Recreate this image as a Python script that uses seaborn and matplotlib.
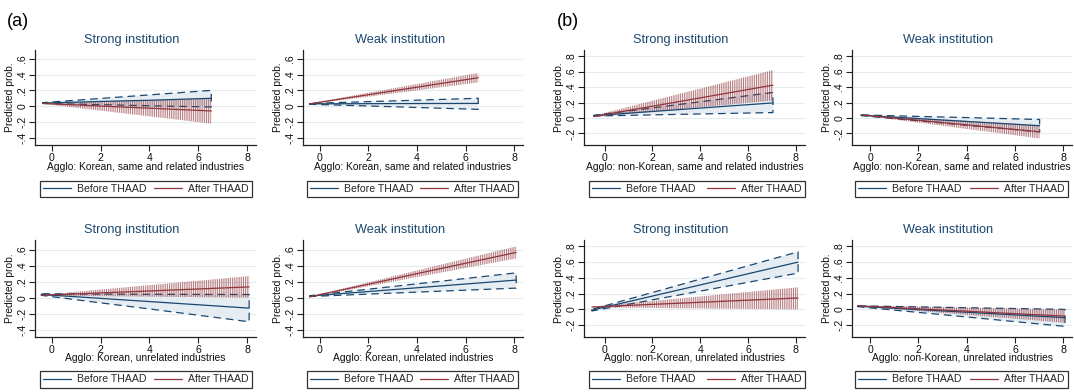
import matplotlib
matplotlib.use("Agg")
import matplotlib.pyplot as plt
import matplotlib.colors as mcolors
from matplotlib.lines import Line2D
from matplotlib.ticker import FixedLocator, FuncFormatter
import seaborn as sns

sns.set_theme(style="white")
plt.rcParams["font.family"] = ["Liberation Sans", "DejaVu Sans"]
plt.rcParams["hatch.linewidth"] = 0.65
plt.rcParams["lines.scale_dashes"] = False

NAVY = "#1a476f"
MAROON = "#90353b"
CI_FILL = "#e6edf2"
GRID = "#e3ecee"
AXC = "#222222"

XL_KR_REL = "Agglo: Korean, same and related industries"
XL_NK_REL = "Agglo: non-Korean, same and related industries"
XL_KR_UNR = "Agglo: Korean, unrelated industries"
XL_NK_UNR = "Agglo: non-Korean, unrelated industries"
LEGEND_LABELS = ["Before THAAD", "After THAAD"]

# ---- (a) top-left: Korean, same & related, strong institution
x_p1 = [-0.37, 2, 4, 6.53]
bef_p1 = [0.040, 0.060, 0.075, 0.100]
bef_lo_p1 = [0.035, 0.020, 0.005, -0.010]
bef_hi_p1 = [0.045, 0.098, 0.143, 0.200]
aft_p1 = [0.035, 0.002, -0.025, -0.060]
aft_lo_p1 = [0.030, -0.056, -0.128, -0.220]
aft_hi_p1 = [0.040, 0.060, 0.078, 0.100]

# ---- (a) top-right: Korean, same & related, weak institution
x_p2 = [-0.41, 2, 4, 6.52]
bef_p2 = [0.030, 0.032, 0.034, 0.035]
bef_lo_p2 = [0.025, 0.003, -0.016, -0.040]
bef_hi_p2 = [0.035, 0.058, 0.076, 0.100]
aft_p2 = [0.030, 0.145, 0.240, 0.360]
aft_lo_p2 = [0.025, 0.120, 0.200, 0.300]
aft_hi_p2 = [0.035, 0.170, 0.280, 0.420]

# ---- (b) top-left: non-Korean, same & related, strong institution
x_p3 = [-0.45, 2, 4, 7.04]
bef_p3 = [0.030, 0.084, 0.128, 0.195]
bef_lo_p3 = [0.025, 0.040, 0.052, 0.070]
bef_hi_p3 = [0.035, 0.130, 0.210, 0.330]
aft_p3 = [0.020, 0.152, 0.260, 0.425]
aft_lo_p3 = [0.010, 0.080, 0.138, 0.225]
aft_hi_p3 = [0.030, 0.223, 0.380, 0.620]

# ---- (b) top-right: non-Korean, same & related, weak institution
x_p4 = [-0.37, 2, 4, 7.02]
bef_p4 = [0.035, -0.008, -0.045, -0.100]
bef_lo_p4 = [0.030, -0.037, -0.094, -0.180]
bef_hi_p4 = [0.040, 0.020, 0.005, -0.020]
aft_p4 = [0.040, -0.030, -0.090, -0.180]
aft_lo_p4 = [0.035, -0.061, -0.142, -0.265]
aft_hi_p4 = [0.045, 0.000, -0.038, -0.095]

# ---- (a) bottom-left: Korean, unrelated, strong institution
x_p5 = [-0.42, 2, 4, 6, 8.08]
bef_p5 = [0.040, -0.008, -0.048, -0.088, -0.130]
bef_lo_p5 = [0.030, -0.064, -0.140, -0.218, -0.300]
bef_hi_p5 = [0.050, 0.045, 0.043, 0.041, 0.040]
aft_p5 = [0.030, 0.060, 0.084, 0.109, 0.135]
aft_lo_p5 = [0.025, 0.019, 0.013, 0.007, 0.000]
aft_hi_p5 = [0.035, 0.102, 0.157, 0.212, 0.270]

# ---- (a) bottom-right: Korean, unrelated, weak institution
x_p6 = [-0.41, 2, 4, 6, 8.08]
bef_p6 = [0.020, 0.077, 0.124, 0.171, 0.220]
bef_lo_p6 = [0.015, 0.045, 0.070, 0.094, 0.120]
bef_hi_p6 = [0.025, 0.106, 0.173, 0.240, 0.310]
aft_p6 = [0.010, 0.168, 0.300, 0.430, 0.565]
aft_lo_p6 = [0.005, 0.143, 0.257, 0.371, 0.490]
aft_hi_p6 = [0.015, 0.192, 0.340, 0.487, 0.640]

# ---- (b) bottom-left: non-Korean, unrelated, strong institution
x_p7 = [-0.53, 2, 4, 6, 8.09]
bef_p7 = [-0.010, 0.169, 0.310, 0.452, 0.600]
bef_lo_p7 = [-0.020, 0.121, 0.232, 0.344, 0.460]
bef_hi_p7 = [0.000, 0.214, 0.384, 0.553, 0.730]
aft_p7 = [0.030, 0.064, 0.090, 0.117, 0.145]
aft_lo_p7 = [0.025, 0.018, 0.012, 0.006, 0.000]
aft_hi_p7 = [0.035, 0.107, 0.164, 0.221, 0.280]

# ---- (b) bottom-right: non-Korean, unrelated, weak institution
x_p8 = [-0.52, 2, 4, 6, 8.07]
bef_p8 = [0.040, -0.003, -0.036, -0.070, -0.105]
bef_lo_p8 = [0.035, -0.038, -0.096, -0.155, -0.215]
bef_hi_p8 = [0.045, 0.032, 0.021, 0.011, 0.000]
aft_p8 = [0.045, 0.007, -0.023, -0.054, -0.085]
aft_lo_p8 = [0.040, -0.021, -0.070, -0.119, -0.170]
aft_hi_p8 = [0.050, 0.035, 0.023, 0.012, 0.000]

YT_KR = [-0.4, -0.2, 0, 0.2, 0.4, 0.6]
YT_NK = [-0.2, 0, 0.2, 0.4, 0.6, 0.8]
XT = [0, 2, 4, 6, 8]

panels = [
    (0, 0, "Strong institution", XL_KR_REL, YT_KR, x_p1, bef_p1, bef_lo_p1, bef_hi_p1, aft_p1, aft_lo_p1, aft_hi_p1),
    (0, 1, "Weak institution", XL_KR_REL, YT_KR, x_p2, bef_p2, bef_lo_p2, bef_hi_p2, aft_p2, aft_lo_p2, aft_hi_p2),
    (0, 2, "Strong institution", XL_NK_REL, YT_NK, x_p3, bef_p3, bef_lo_p3, bef_hi_p3, aft_p3, aft_lo_p3, aft_hi_p3),
    (0, 3, "Weak institution", XL_NK_REL, YT_NK, x_p4, bef_p4, bef_lo_p4, bef_hi_p4, aft_p4, aft_lo_p4, aft_hi_p4),
    (1, 0, "Strong institution", XL_KR_UNR, YT_KR, x_p5, bef_p5, bef_lo_p5, bef_hi_p5, aft_p5, aft_lo_p5, aft_hi_p5),
    (1, 1, "Weak institution", XL_KR_UNR, YT_KR, x_p6, bef_p6, bef_lo_p6, bef_hi_p6, aft_p6, aft_lo_p6, aft_hi_p6),
    (1, 2, "Strong institution", XL_NK_UNR, YT_NK, x_p7, bef_p7, bef_lo_p7, bef_hi_p7, aft_p7, aft_lo_p7, aft_hi_p7),
    (1, 3, "Weak institution", XL_NK_UNR, YT_NK, x_p8, bef_p8, bef_lo_p8, bef_hi_p8, aft_p8, aft_lo_p8, aft_hi_p8),
]

W, H = 1074, 392
fig = plt.figure(figsize=(W / 100, H / 100), dpi=100)
fig.patch.set_facecolor("white")

COL_L = [35, 303, 584, 852]
COL_R = [256, 523, 805, 1072]
ROW_T = [50, 240]
ROW_B = [145, 337]
TITLE_X = [132, 400, 681, 948]
TITLE_Y = [40, 230]
LEG_X0 = [40, 307, 589, 855]
LEG_X1 = [252, 518, 805, 1068]
LEG_Y = [(180, 198), (370, 389)]
XLIMS = [(-0.68, 8.36), (-0.68, 8.36), (-0.86, 8.38), (-0.75, 8.36)]
YLIMS_KR = [(-0.49, 0.71), (-0.49, 0.72)]
YLIM_NK = (-0.35, 0.88)


def fmt(v, pos=None):
    if abs(v) < 1e-9:
        return "0"
    s = "%.1f" % v
    return s.replace("0.", ".")


red_hatch = mcolors.to_rgba(MAROON, 0.7)

for (r, c, title, xlabel, yt, x, b, blo, bhi, a, alo, ahi) in panels:
    l, rr, t, bt = COL_L[c], COL_R[c], ROW_T[r], ROW_B[r]
    ax = fig.add_axes([l / W, 1 - bt / H, (rr - l) / W, (bt - t) / H])
    ax.set_facecolor("white")
    # CI for Before THAAD: shaded area with dashed outline
    ax.fill_between(x, blo, bhi, facecolor=CI_FILL, edgecolor=NAVY,
                    linewidth=0.9, linestyle=(0, (5.5, 3.5)), zorder=1)
    # CI for After THAAD: dense vertical spikes
    ax.fill_between(x, alo, ahi, facecolor="none", edgecolor=red_hatch,
                    hatch="|" * 9, linewidth=0, zorder=2)
    sns.lineplot(x=x, y=b, ax=ax, color=NAVY, linewidth=0.9, zorder=3)
    sns.lineplot(x=x, y=a, ax=ax, color=MAROON, linewidth=0.9, zorder=4)

    ax.set_xlim(*XLIMS[c])
    ax.set_ylim(*(YLIMS_KR[r] if c < 2 else YLIM_NK))
    ax.xaxis.set_major_locator(FixedLocator(XT))
    ax.yaxis.set_major_locator(FixedLocator(yt))
    ax.yaxis.set_major_formatter(FuncFormatter(fmt))
    ax.xaxis.set_major_formatter(FuncFormatter(lambda v, p: "%d" % v))
    ax.yaxis.grid(True, color=GRID, linewidth=0.8)
    ax.xaxis.grid(False)
    ax.set_axisbelow(True)
    for s in ["top", "right"]:
        ax.spines[s].set_visible(False)
    for s in ["left", "bottom"]:
        ax.spines[s].set_color(AXC)
        ax.spines[s].set_linewidth(0.9)
    ax.tick_params(axis="both", which="major", direction="out", length=4,
                   width=0.8, color=AXC, labelsize=7.6, pad=1.5,
                   left=True, bottom=True, labelcolor="#111111")
    ax.tick_params(axis="y", labelrotation=90)
    for lab in ax.get_yticklabels():
        lab.set_va("center")
    ax.set_xlabel(xlabel, fontsize=7.4, color="#111111")
    ax.set_ylabel("Predicted prob.", fontsize=7.4, color="#111111")
    ax.xaxis.set_label_coords(0.5, -(17 if r == 0 else 16) / (bt - t))
    ax.yaxis.set_label_coords(-20 / (rr - l), 0.5)

    fig.text(TITLE_X[c] / W, 1 - TITLE_Y[r] / H, title, ha="center", va="center",
             fontsize=9.2, color=NAVY)

    handles = [Line2D([], [], color=NAVY, lw=0.9), Line2D([], [], color=MAROON, lw=0.9)]
    y0, y1 = LEG_Y[r]
    x0, x1 = LEG_X0[c], LEG_X1[c]
    leg = ax.legend(handles, LEGEND_LABELS, loc="center",
                    bbox_to_anchor=(x0 / W, 1 - y1 / H, (x1 - x0) / W, (y1 - y0) / H),
                    bbox_transform=fig.transFigure, mode="expand", ncol=2,
                    fontsize=7.6, frameon=True, fancybox=False, framealpha=1,
                    edgecolor="#333333", borderpad=0.3, handlelength=2.6,
                    handletextpad=0.6, columnspacing=1.0, borderaxespad=0)
    leg.get_frame().set_linewidth(0.9)

fig.text(18 / W, 1 - 21 / H, "(a)", ha="center", va="center", fontsize=13, color="black")
fig.text(568 / W, 1 - 21 / H, "(b)", ha="center", va="center", fontsize=13, color="black")

fig.savefig("out.png", dpi=100, facecolor="white")
